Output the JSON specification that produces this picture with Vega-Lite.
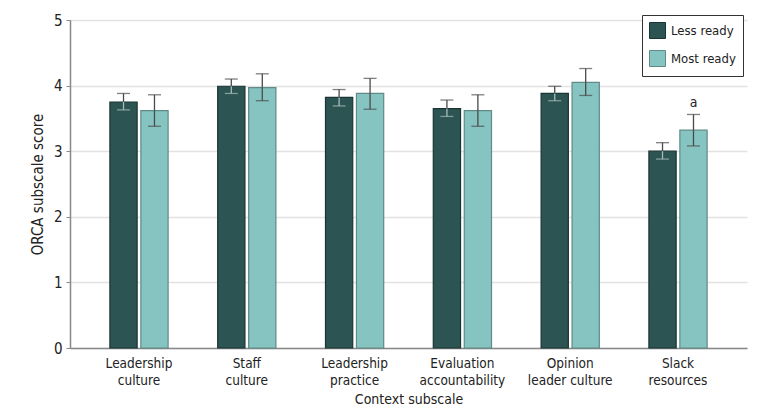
{
  "$schema": "https://vega.github.io/schema/vega-lite/v6.json",
  "width": 677,
  "height": 328,
  "autosize": {"type": "none"},
  "padding": {"left": 70, "top": 20, "right": 33, "bottom": 70},
  "background": "white",
  "config": {
    "font": "DejaVu Sans Condensed, sans-serif",
    "view": {"stroke": null}
  },
  "data": {
    "values": [
      {"category": "Leadership|culture", "group": "Less ready", "value": 3.75, "lo": 3.63, "hi": 3.88, "note": ""},
      {"category": "Leadership|culture", "group": "Most ready", "value": 3.62, "lo": 3.38, "hi": 3.86, "note": ""},
      {"category": "Staff|culture", "group": "Less ready", "value": 3.99, "lo": 3.88, "hi": 4.10, "note": ""},
      {"category": "Staff|culture", "group": "Most ready", "value": 3.97, "lo": 3.77, "hi": 4.18, "note": ""},
      {"category": "Leadership|practice", "group": "Less ready", "value": 3.82, "lo": 3.69, "hi": 3.94, "note": ""},
      {"category": "Leadership|practice", "group": "Most ready", "value": 3.88, "lo": 3.64, "hi": 4.11, "note": ""},
      {"category": "Evaluation|accountability", "group": "Less ready", "value": 3.65, "lo": 3.53, "hi": 3.78, "note": ""},
      {"category": "Evaluation|accountability", "group": "Most ready", "value": 3.62, "lo": 3.38, "hi": 3.86, "note": ""},
      {"category": "Opinion|leader culture", "group": "Less ready", "value": 3.88, "lo": 3.77, "hi": 3.99, "note": ""},
      {"category": "Opinion|leader culture", "group": "Most ready", "value": 4.05, "lo": 3.85, "hi": 4.26, "note": ""},
      {"category": "Slack|resources", "group": "Less ready", "value": 3.00, "lo": 2.88, "hi": 3.13, "note": ""},
      {"category": "Slack|resources", "group": "Most ready", "value": 3.32, "lo": 3.08, "hi": 3.56, "note": "a"}
    ]
  },
  "encoding": {
    "x": {
      "field": "category",
      "type": "nominal",
      "sort": null,
      "scale": {"paddingInner": 0.46, "paddingOuter": 0.37},
      "axis": {
        "title": "Context subscale",
        "titleFontSize": 14,
        "titleFontWeight": "normal",
        "titleColor": "#222",
        "titlePadding": 6,
        "labelExpr": "split(datum.label, '|')",
        "labelAngle": 0,
        "labelFontSize": 13.5,
        "labelColor": "#222",
        "labelLineHeight": 17,
        "labelPadding": 8,
        "ticks": false,
        "domainColor": "#888",
        "domainWidth": 1.5,
        "grid": false
      }
    },
    "xOffset": {"field": "group", "type": "nominal", "scale": {"paddingInner": 0.12}}
  },
  "layer": [
    {
      "mark": {"type": "bar", "strokeWidth": 1.2},
      "encoding": {
        "y": {
          "field": "value",
          "type": "quantitative",
          "scale": {"domain": [0, 5]},
          "axis": {
            "title": "ORCA subscale score",
            "titleFontSize": 15,
            "titleFontWeight": "normal",
            "titleColor": "#222",
            "titlePadding": 8,
            "values": [0, 1, 2, 3, 4, 5],
            "format": "d",
            "labelFontSize": 15,
            "labelColor": "#222",
            "labelPadding": 4,
            "tickColor": "#888",
            "tickSize": 4,
            "domainColor": "#888",
            "domainWidth": 1.5,
            "gridColor": "#e2e2e2",
            "gridWidth": 1.5
          }
        },
        "color": {
          "field": "group",
          "type": "nominal",
          "scale": {"domain": ["Less ready", "Most ready"], "range": ["#2b5452", "#86c4c1"]},
          "legend": {
            "title": null,
            "orient": "none",
            "legendX": 572,
            "legendY": -5,
            "direction": "vertical",
            "fillColor": "white",
            "strokeColor": "#333",
            "padding": 7,
            "symbolType": "square",
            "symbolSize": 256,
            "symbolStrokeColor": "#222",
            "symbolStrokeWidth": 1,
            "labelFontSize": 13,
            "labelColor": "#222",
            "rowPadding": 7,
            "labelOffset": 5
          }
        },
        "stroke": {
          "field": "group",
          "type": "nominal",
          "scale": {"domain": ["Less ready", "Most ready"], "range": ["#1b3534", "#5f8a88"]},
          "legend": null
        }
      }
    },
    {
      "mark": {"type": "rule", "strokeWidth": 1.3, "color": "#4a4a4a"},
      "encoding": {
        "y": {"field": "value", "type": "quantitative"},
        "y2": {"field": "hi"}
      }
    },
    {
      "mark": {"type": "rule", "strokeWidth": 1.3},
      "encoding": {
        "y": {"field": "lo", "type": "quantitative"},
        "y2": {"field": "value"},
        "color": {
          "condition": {"test": "datum.group === 'Less ready'", "value": "#a8bcbb"},
          "value": "#4a4a4a"
        }
      }
    },
    {
      "mark": {"type": "tick", "thickness": 1.3, "size": 13, "color": "#4a4a4a"},
      "encoding": {
        "y": {"field": "hi", "type": "quantitative"}
      }
    },
    {
      "mark": {"type": "tick", "thickness": 1.3, "size": 13},
      "encoding": {
        "y": {"field": "lo", "type": "quantitative"},
        "color": {
          "condition": {"test": "datum.group === 'Less ready'", "value": "#a8bcbb"},
          "value": "#4a4a4a"
        }
      }
    },
    {
      "mark": {"type": "text", "baseline": "bottom", "dy": -4, "fontSize": 14, "color": "#222"},
      "encoding": {
        "y": {"field": "hi", "type": "quantitative"},
        "text": {"field": "note"}
      }
    }
  ]
}
